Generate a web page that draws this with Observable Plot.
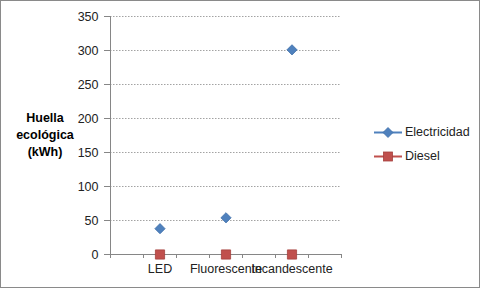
<!DOCTYPE html>
<html><head><meta charset="utf-8">
<script src="https://cdn.jsdelivr.net/npm/d3@7"></script>
<script src="https://cdn.jsdelivr.net/npm/@observablehq/plot@0.6"></script>
<style>
body{margin:0;background:#fff;}
#wrap{position:relative;width:481px;height:289px;font-family:"Liberation Sans",Arial,sans-serif;color:#222;}
#wrap svg.plot{position:absolute;left:0;top:0;}
#frame{position:absolute;left:0;top:0;width:478px;height:286px;border:1px solid #8a8a8a;pointer-events:none;}
#ytitle{position:absolute;left:0px;top:110px;width:90px;text-align:center;font-weight:bold;font-size:12.5px;line-height:17px;color:#000;}
.leg{position:absolute;left:374px;height:15px;font-size:12.5px;line-height:15px;white-space:nowrap;}
.leg svg{vertical-align:top;margin-right:2px;}
</style></head><body>
<div id="wrap"><div id="ytitle">Huella<br>ecológica<br>(kWh)</div><div id="frame"></div></div>
<script>
const categories = ["LED", "Fluorescente", "Incandescente"];
const electricidad = [38, 54, 301];
const diesel = [0, 0, 0];
const yTicks = [0, 50, 100, 150, 200, 250, 300, 350];
const seriesNames = ["Electricidad", "Diesel"];
const seriesColors = ["#4F81BD", "#C0504D"];
const seriesStrokes = ["#3C6DA8", "#A5403D"];

const elecRows = categories.map((c, i) => ({cat: c, i, value: electricidad[i]}));
const dieselRows = categories.map((c, i) => ({cat: c, i, value: diesel[i]}));
const minorTicks = d3.range(-0.75, 2.76, 0.5);

const chart = Plot.plot({
  width: 481,
  height: 289,
  marginLeft: 110,
  marginRight: 140,
  marginTop: 16,
  marginBottom: 35,
  style: {fontFamily: "Liberation Sans, Arial, sans-serif", fontSize: "12.5px", color: "#222", background: "transparent"},
  x: {type: "linear", domain: [-0.75, 2.75]},
  y: {domain: [0, 350]},
  marks: [
    Plot.ruleY(yTicks.filter(d => d > 0), {stroke: "#a3a3a3", strokeDasharray: "1.5,1.5"}),
    Plot.ruleY([0], {stroke: "#868686"}),
    Plot.ruleX([-0.75], {stroke: "#868686"}),
    Plot.axisY({ticks: yTicks, tickSize: 6, tickPadding: 6, tickFormat: d => String(d), stroke: "#868686", fill: "#222", fontSize: 12.5, label: null}),
    Plot.axisX({ticks: minorTicks, tickSize: 4, tickFormat: () => "", stroke: "#868686", label: null}),
    Plot.axisX({ticks: [0, 1, 2], tickSize: 0, tickPadding: 10, tickFormat: i => categories[i], fill: "#222", fontSize: 12.5, label: null}),
    Plot.dot(dieselRows, {x: "i", y: "value", symbol: "square", r: 5.2, fill: seriesColors[1], stroke: seriesStrokes[1], strokeWidth: 0.8}),
    Plot.dot(elecRows, {x: "i", y: "value", symbol: "diamond2", r: 4.6, fill: seriesColors[0], stroke: seriesStrokes[0], strokeWidth: 0.8})
  ]
});
chart.classList.add("plot");
const wrap = document.getElementById("wrap");
wrap.insertBefore(chart, wrap.firstChild);

const legTops = [125, 148.5];
seriesNames.forEach((name, k) => {
  const row = document.createElement("div");
  row.className = "leg";
  row.style.top = legTops[k] + "px";
  const marker = k === 0
    ? `<path d="M14,2.5L19,7.5L14,12.5L9,7.5Z" fill="${seriesColors[0]}" stroke="${seriesStrokes[0]}" stroke-width="0.8"/>`
    : `<rect x="9.5" y="3" width="9" height="9" fill="${seriesColors[1]}" stroke="${seriesStrokes[1]}" stroke-width="0.8"/>`;
  row.innerHTML = `<svg width="29" height="15"><line x1="0" x2="28" y1="7.5" y2="7.5" stroke="${seriesColors[k]}" stroke-width="2"/>${marker}</svg><span>${name}</span>`;
  wrap.appendChild(row);
});
</script>
</body></html>
